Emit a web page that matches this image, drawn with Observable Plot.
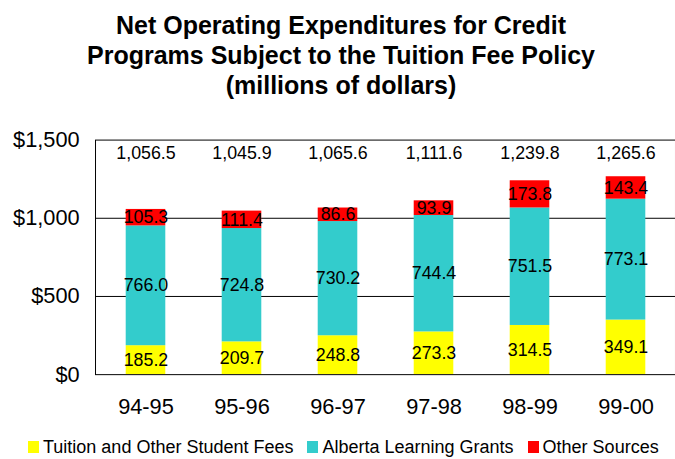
<!DOCTYPE html>
<html>
<head>
<meta charset="utf-8">
<script src="https://cdn.jsdelivr.net/npm/d3@7"></script>
<script src="https://cdn.jsdelivr.net/npm/@observablehq/plot@0.6"></script>
<style>
  html, body { margin: 0; padding: 0; overflow: hidden; background: #fff; }
  #wrap { position: relative; width: 675px; height: 459px; overflow: hidden; font-family: "Liberation Sans", Arial, sans-serif; }
  #title { width: 682px; height: 90px; padding-top: 10px; text-align: center; font-weight: bold; font-size: 25px; line-height: 30px; color: #000; }
  #chart svg { display: block; }
  #legend { position: absolute; left: 28px; top: 437px; font-size: 18px; line-height: 20px; white-space: nowrap; color: #000; display: flex; align-items: center; }
  .item { display: inline-flex; align-items: center; margin-right: 14px; }
  .sw { display: inline-block; width: 11px; height: 12px; margin-right: 4px; }
</style>
</head>
<body>
<div id="wrap">
  <div id="title">Net Operating Expenditures for Credit<br>Programs Subject to the Tuition Fee Policy<br>(millions of dollars)</div>
  <div id="chart"></div>
  <div id="legend"></div>
</div>
<script>
const years = ["94-95", "95-96", "96-97", "97-98", "98-99", "99-00"];
const tuition = [185.2, 209.7, 248.8, 273.3, 314.5, 349.1];
const grants = [766.0, 724.8, 730.2, 744.4, 751.5, 773.1];
const other = [105.3, 111.4, 86.6, 93.9, 173.8, 143.4];
const seriesNames = ["Tuition and Other Student Fees", "Alberta Learning Grants", "Other Sources"];
const seriesColors = ["#FFFF00", "#33CCCC", "#FF0000"];
const yTicks = [0, 500, 1000, 1500];

const seriesValues = [tuition, grants, other];
const rows = [];
seriesNames.forEach((s, si) => {
  years.forEach((yr, i) => rows.push({year: yr, series: s, value: seriesValues[si][i]}));
});
const totals = years.map((yr, i) => ({year: yr, total: tuition[i] + grants[i] + other[i]}));

const fmt1 = d3.format(",.1f");
const font = "Liberation Sans, Arial, sans-serif";

const chart = Plot.plot({
  width: 682,
  height: 325,
  marginTop: 40,
  marginBottom: 48,
  marginLeft: 96,
  marginRight: 0,
  style: {fontFamily: font, background: "white", color: "black"},
  x: {domain: years, paddingInner: 0.59, paddingOuter: 0.295, label: null},
  y: {domain: [0, 1500], label: null},
  color: {domain: seriesNames, range: seriesColors},
  marks: [
    Plot.ruleY([500, 1000], {stroke: "black", strokeWidth: 1}),
    Plot.barY(rows, {x: "year", y: "value", fill: "series", order: seriesNames}),
    Plot.text(rows, Plot.stackY({x: "year", y: "value", z: "series", order: seriesNames, text: d => d.value.toFixed(1), fill: "black", fontSize: 18})),
    Plot.text(totals, {x: "year", text: d => fmt1(d.total), frameAnchor: "top", lineAnchor: "top", dy: 6, fontSize: 18, fill: "black"}),
    Plot.frame({stroke: "black", strokeWidth: 1}),
    Plot.axisY({ticks: yTicks, tickFormat: d3.format("$,"), tickSize: 0, tickPadding: 16, fontSize: 22, label: null}),
    Plot.axisX({tickSize: 0, tickPadding: 24, fontSize: 22, label: null})
  ]
});
document.getElementById("chart").appendChild(chart);

const legend = document.getElementById("legend");
seriesNames.forEach((s, i) => {
  const item = document.createElement("span");
  item.className = "item";
  const sw = document.createElement("span");
  sw.className = "sw";
  sw.style.background = seriesColors[i];
  item.appendChild(sw);
  item.appendChild(document.createTextNode(s));
  legend.appendChild(item);
});
</script>
</body>
</html>
